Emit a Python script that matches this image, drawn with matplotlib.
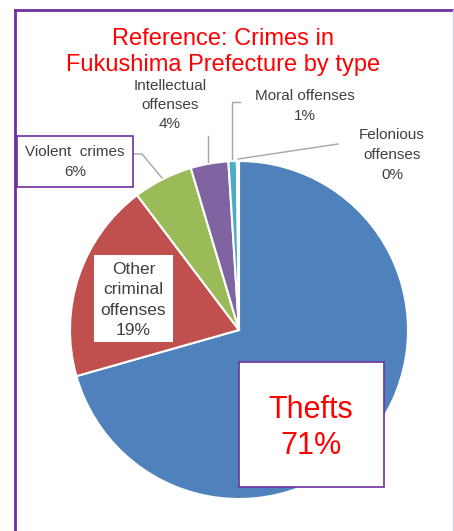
import matplotlib
matplotlib.use("Agg")
import matplotlib.pyplot as plt
from matplotlib.patches import Rectangle

plt.rcParams['font.family'] = ['Liberation Sans', 'DejaVu Sans']

# data
categories = ["Thefts", "Other criminal offenses", "Violent crimes",
              "Intellectual offenses", "Moral offenses", "Felonious offenses"]
shares = [70.6, 19.1, 5.7, 3.6, 0.8, 0.2]
colors = ["#4F81BD", "#C0504D", "#9BBB59", "#8064A2", "#4BACC6", "#F79646"]
label_text = ["Thefts", "Other\ncriminal\noffenses", "Violent  crimes",
              "Intellectual\noffenses", "Moral offenses", "Felonious\noffenses"]

W, H = 454, 531
fig = plt.figure(figsize=(W / 100, H / 100), dpi=100, facecolor='white')
ax = fig.add_axes([0, 0, 1, 1])

def Y(py):
    # pixel row from top -> data y
    return H - py

ax.pie(shares, colors=colors, startangle=90, counterclock=False,
       center=(239, Y(330)), radius=169,
       wedgeprops=dict(edgecolor='white', linewidth=1.5))
ax.set_xlim(0, W)
ax.set_ylim(0, H)
ax.set_aspect('equal')
ax.axis('off')

pct = [f"{v:.0f}%" for v in shares]
gray = "#404040"
line_gray = "#A6A6A6"
purple = "#7030A0"

# outer frame
ax.plot([15, 15], [Y(10), Y(540)], color=purple, lw=2, clip_on=False)
ax.plot([15, 460], [Y(10), Y(10)], color=purple, lw=2, clip_on=False)
ax.plot([453, 453], [Y(10), Y(540)], color="#D9C8E6", lw=1, clip_on=False)

# title
ax.text(223, Y(52), "Reference: Crimes in\nFukushima Prefecture by type",
        ha='center', va='center', color='red', fontsize=17, linespacing=1.2)

# Thefts box
ax.add_patch(Rectangle((239, Y(487)), 145, 125, facecolor='white',
                       edgecolor=purple, lw=1.2, zorder=3))
ax.text(311, Y(428), f"{label_text[0]}\n{pct[0]}", ha='center', va='center',
        color='red', fontsize=22, linespacing=1.22, zorder=4)

# Other criminal offenses box
ax.add_patch(Rectangle((94, Y(342)), 79, 87, facecolor='white',
                       edgecolor='none', zorder=3))
ax.text(133.5, Y(300), f"{label_text[1]}\n{pct[1]}", ha='center', va='center',
        color=gray, fontsize=12.5, linespacing=1.45, zorder=4)

# Violent crimes box
ax.add_patch(Rectangle((17, Y(187)), 116, 51, facecolor='white',
                       edgecolor=purple, lw=1.2, zorder=3))
ax.text(75, Y(162), f"{label_text[2]}\n{pct[2]}", ha='center', va='center',
        color=gray, fontsize=11, linespacing=1.5, zorder=4)
ax.plot([133, 142, 162], [Y(154), Y(154), Y(178)], color=line_gray, lw=1)

# Intellectual offenses
ax.text(170, Y(105), f"{label_text[3]}\n{pct[3]}", ha='center', va='center',
        color=gray, fontsize=11, linespacing=1.47)
ax.plot([208, 208], [Y(136), Y(162)], color=line_gray, lw=1)

# Moral offenses
ax.text(305, Y(106), f"{label_text[4]}\n{pct[4]}", ha='center', va='center',
        color=gray, fontsize=11, linespacing=1.5)
ax.plot([240, 232, 232], [Y(102), Y(102), Y(159)], color=line_gray, lw=1)

# Felonious offenses
ax.text(392, Y(155), f"{label_text[5]}\n{pct[5]}", ha='center', va='center',
        color=gray, fontsize=11, linespacing=1.55)
ax.plot([338, 238], [Y(144), Y(159)], color=line_gray, lw=1)

fig.savefig("out.png", dpi=100, facecolor='white')
